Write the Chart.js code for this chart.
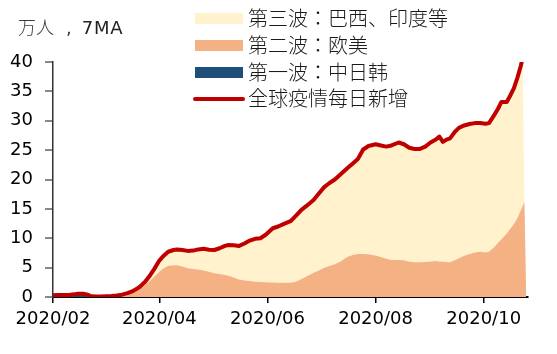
<!DOCTYPE html>
<html>
<head>
<meta charset="utf-8">
<script src="https://cdn.jsdelivr.net/npm/chart.js@4"></script>
<style>
  body { margin: 0; background: #fff; }
  #wrap { position: relative; width: 557px; height: 354px; }
  #c { position: absolute; left: 0; top: 0; }
  .title { position: absolute; left: 18px; top: 16px; font: 18px "DejaVu Sans", "Noto Sans CJK JP", sans-serif; color: #3a3a3a; white-space: nowrap; line-height: 20px; }
  .title .cn { font-family: "Noto Sans CJK JP", sans-serif; font-weight: 300; font-size: 18px; }
  .title .cm { margin-left: 12px; }
  .title .en { margin-left: 10px; letter-spacing: 0.8px; color: #222; }
  .lg-box { position: absolute; left: 195px; width: 48px; }
  .lg-txt { position: absolute; left: 248px; font: 300 20px "Noto Sans CJK JP", sans-serif; color: #1a1a1a; line-height: 20px; white-space: nowrap; }
</style>
</head>
<body>
<div id="wrap">
  <canvas id="c" width="557" height="354"></canvas>
  <div class="title"><span class="cn">万人</span><span class="cm">,</span><span class="en">7MA</span></div>
  <div class="lg-box" style="top:12.5px;height:11px;background:#FFF2CC"></div>
  <div class="lg-txt" style="top:8px">第三波：巴西、印度等</div>
  <div class="lg-box" style="top:39.5px;height:11px;background:#F4B183"></div>
  <div class="lg-txt" style="top:35px">第二波：欧美</div>
  <div class="lg-box" style="top:66.5px;height:11px;background:#1F4E79"></div>
  <div class="lg-txt" style="top:62px">第一波：中日韩</div>
  <div class="lg-box" style="top:97px;height:4px;border-radius:2px;left:193px;width:52px;background:#C00000"></div>
  <div class="lg-txt" style="top:87.5px">全球疫情每日新增</div>
</div>
<script>
// Days since 2020-02-01
const days = [0,3,6,9,12,14,17,19,21,24,27,30,33,36,39,42,45,47,49,52,55,57,60,62,65,68,70,73,76,79,82,85,88,91,94,97,99,102,105,108,111,114,117,120,124,127,130,134,137,140,143,147,150,153,156,159,162,166,169,172,175,178,182,185,188,191,195,198,201,204,207,210,213,216,218,220,222,224,227,229,232,235,238,241,244,246,249,251,253,256,258,260,262,264,265,266,267];

// 全球疫情每日新增 (万人, 7MA)
const totalNew = [0.30,0.33,0.36,0.33,0.45,0.55,0.55,0.45,0.18,0.10,0.10,0.14,0.18,0.26,0.40,0.66,1.00,1.35,1.75,2.60,3.80,4.70,6.20,6.90,7.70,8.00,8.10,8.00,7.85,7.90,8.10,8.20,8.05,8.00,8.30,8.70,8.85,8.80,8.70,9.10,9.60,9.90,10.0,10.6,11.7,12.0,12.4,12.9,13.8,14.8,15.5,16.5,17.6,18.7,19.4,20.0,20.8,21.9,22.7,23.5,25.1,25.7,26.0,25.8,25.6,25.8,26.3,26.0,25.4,25.2,25.2,25.6,26.3,26.8,27.3,26.4,26.8,27.0,28.2,28.8,29.2,29.45,29.6,29.6,29.5,29.6,31.0,32.0,33.2,33.2,34.3,35.5,37.3,39.4,40.8,null,null];

// 第一波：中日韩
const wave1 = [0.28,0.31,0.34,0.31,0.43,0.53,0.52,0.40,0.12,0.07,0.01,0.01,0.01,0.01,0.01,0.01,0.01,0.01,0.01,0.01,0.01,0.01,0.01,0.01,0.01,0.01,0.01,0.01,0.01,0.01,0.01,0.01,0.01,0.01,0.01,0.01,0.01,0.01,0.01,0.01,0.01,0.01,0.01,0.01,0.01,0.01,0.01,0.01,0.01,0.01,0.01,0.01,0.01,0.01,0.01,0.01,0.01,0.01,0.01,0.01,0.01,0.01,0.01,0.01,0.01,0.01,0.01,0.01,0.01,0.01,0.01,0.01,0.01,0.01,0.01,0.01,0.01,0.01,0.01,0.01,0.01,0.01,0.01,0.01,0.01,0.01,0.01,0.01,0.01,0.01,0.01,0.01,0.01,0.01,0.01,0.01,0];

// 第二波：欧美
const wave2 = [0,0,0,0,0,0,0,0,0.01,0.01,0.02,0.04,0.07,0.14,0.27,0.50,0.80,1.10,1.35,2.00,2.80,3.40,4.30,4.80,5.30,5.40,5.40,5.20,4.90,4.75,4.65,4.50,4.30,4.05,3.90,3.75,3.60,3.30,2.95,2.80,2.70,2.60,2.55,2.50,2.45,2.42,2.40,2.42,2.60,3.00,3.50,4.10,4.50,4.95,5.25,5.55,6.00,6.80,7.15,7.30,7.30,7.25,7.05,6.80,6.50,6.30,6.30,6.25,6.00,5.90,5.90,5.95,6.05,6.10,6.05,6.00,5.95,5.90,6.30,6.60,7.00,7.30,7.55,7.70,7.55,7.70,8.50,9.20,9.80,10.8,11.6,12.4,13.4,14.8,15.5,16.2,0];

// 第三波：巴西、印度等
const wave3 = [0.02,0.02,0.02,0.02,0.02,0.02,0.03,0.05,0.05,0.02,0.07,0.09,0.10,0.11,0.12,0.15,0.19,0.24,0.39,0.59,0.99,1.29,1.89,2.09,2.39,2.59,2.69,2.79,2.94,3.14,3.44,3.69,3.74,3.94,4.39,4.94,5.24,5.49,5.74,6.29,6.89,7.29,7.44,8.09,9.24,9.57,9.99,10.47,11.19,11.79,11.99,12.39,13.09,13.74,14.14,14.44,14.79,15.09,15.54,16.19,17.79,18.44,18.94,18.99,19.09,19.49,19.99,19.74,19.39,19.29,19.29,19.64,20.24,20.69,21.24,20.39,20.84,21.09,21.89,22.19,22.19,22.14,22.04,21.89,21.94,21.89,22.49,22.79,23.39,22.39,22.69,23.09,23.89,24.59,25.29,0,0];

const tickDays = [0, 60, 121, 182, 243];
const tickLabels = ['2020/02', '2020/04', '2020/06', '2020/08', '2020/10'];
const yTicks = [0, 5, 10, 15, 20, 25, 30, 35, 40];

const pts = arr => days.map((d, i) => ({ x: d, y: arr[i] }));

Chart.defaults.font.family = '"DejaVu Sans", sans-serif';
Chart.defaults.color = '#000';

new Chart(document.getElementById('c'), {
  type: 'line',
  data: {
    datasets: [
      { label: '全球疫情每日新增', data: pts(totalNew), stack: 'total', borderColor: '#C00000', borderWidth: 4, fill: false, pointRadius: 0, tension: 0, borderJoinStyle: 'round', borderCapStyle: 'round' },
      { label: '第一波：中日韩', data: pts(wave1), stack: 'waves', backgroundColor: '#1F4E79', borderWidth: 0, fill: 'origin', pointRadius: 0, tension: 0 },
      { label: '第二波：欧美', data: pts(wave2), stack: 'waves', backgroundColor: '#F4B183', borderWidth: 0, fill: '-1', pointRadius: 0, tension: 0 },
      { label: '第三波：巴西、印度等', data: pts(wave3), stack: 'waves', backgroundColor: '#FFF2CC', borderWidth: 0, fill: '-1', pointRadius: 0, tension: 0 }
    ]
  },
  options: {
    responsive: false,
    animation: false,
    devicePixelRatio: 1,
    layout: { padding: { top: 62, right: 29, bottom: 0, left: 0 } },
    plugins: { legend: { display: false }, tooltip: { enabled: false } },
    scales: {
      x: {
        type: 'linear',
        min: 0,
        max: 268,
        afterFit: s => { s.height = 57; },
        afterBuildTicks: s => { s.ticks = tickDays.map(v => ({ value: v })); },
        ticks: {
          autoSkip: false,
          maxRotation: 0,
          padding: 6,
          font: { size: 18 },
          color: '#000',
          callback: v => { const i = tickDays.indexOf(v); return i >= 0 ? tickLabels[i] : ''; }
        },
        grid: { drawOnChartArea: false, drawTicks: true, tickLength: 6, color: '#000', lineWidth: 1.5 },
        border: { display: true, color: '#000', width: 2 }
      },
      y: {
        stacked: true,
        min: 0,
        max: 40,
        afterFit: s => { s.width = 53; },
        afterBuildTicks: s => { s.ticks = yTicks.map(v => ({ value: v })); },
        ticks: { padding: 12, font: { size: 18 }, color: '#000' },
        grid: { drawOnChartArea: false, drawTicks: true, tickLength: 8, color: '#888', lineWidth: 2 },
        border: { display: true, color: '#333', width: 1.5 }
      }
    }
  }
});
</script>
</body>
</html>
